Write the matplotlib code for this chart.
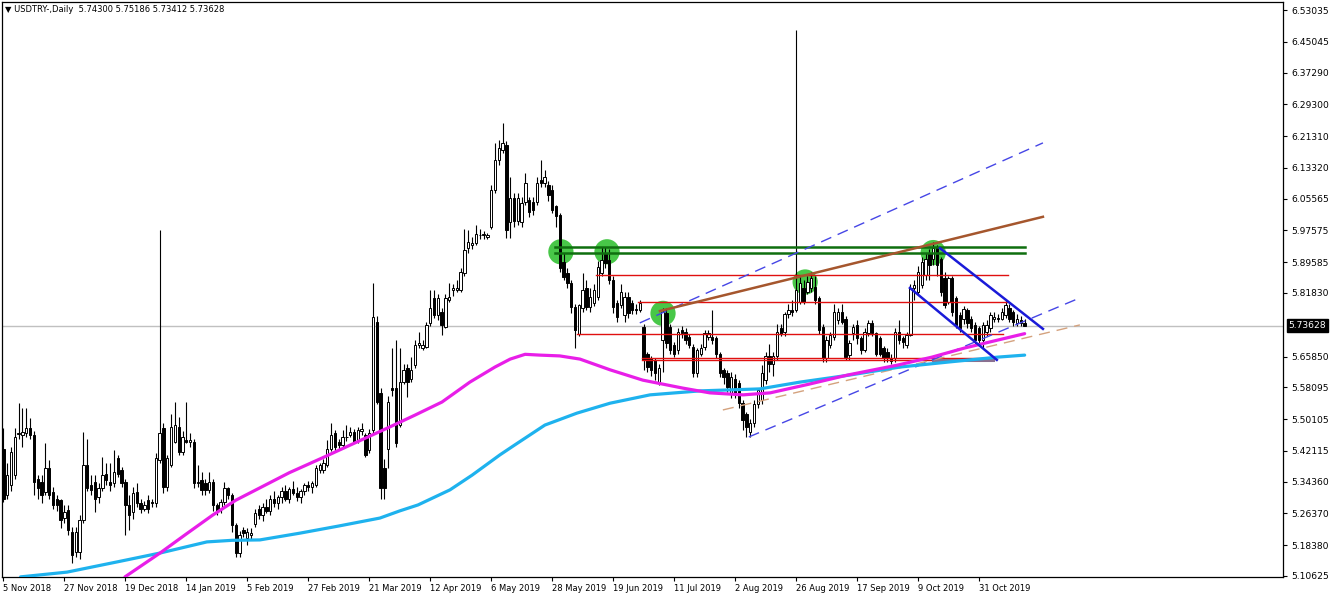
import matplotlib
matplotlib.use("Agg")
import matplotlib.pyplot as plt
import numpy as np

# ---------------- data ----------------
title_text = "\u25BC USDTRY-,Daily  5.74300 5.75186 5.73412 5.73628"
last_close = 5.73628

opens = [
 5.427,5.310,5.335,5.360,5.463,5.460,5.465,5.479,5.461,5.351,
 5.343,5.318,5.377,5.318,5.301,5.297,5.251,5.272,5.218,5.167,
 5.167,5.247,5.385,5.335,5.343,5.306,5.327,5.364,5.343,5.339,
 5.402,5.373,5.343,5.285,5.268,5.318,5.289,5.276,5.297,5.293,
 5.289,5.398,5.478,5.331,5.385,5.444,5.482,5.419,5.448,5.444,
 5.444,5.339,5.348,5.339,5.322,5.343,5.285,5.276,5.293,5.327,
 5.310,5.234,5.163,5.222,5.201,5.209,5.238,5.276,5.260,5.280,
 5.270,5.300,5.290,5.305,5.320,5.300,5.325,5.315,5.305,5.320,
 5.335,5.330,5.335,5.373,5.373,5.385,5.427,5.465,5.444,5.436,
 5.457,5.461,5.469,5.448,5.470,5.461,5.423,5.473,5.746,5.566,
 5.377,5.427,5.578,5.578,5.486,5.595,5.629,5.603,5.637,5.687,
 5.679,5.683,5.742,5.805,5.763,5.771,5.734,5.801,5.826,5.827,
 5.826,5.868,5.931,5.940,5.943,5.963,5.965,5.960,5.985,6.078,
 6.153,6.178,6.190,5.998,6.057,6.000,5.998,6.048,6.052,6.048,
 6.048,6.103,6.094,6.090,6.078,6.036,6.015,5.897,5.868,5.843,
 5.784,5.716,5.780,5.830,5.784,5.792,5.809,5.868,5.918,5.901,
 5.851,5.792,5.788,5.763,5.809,5.792,5.778,5.775,5.733,5.666,
 5.654,5.650,5.595,5.700,5.767,5.733,5.687,5.675,5.725,5.721,
 5.708,5.683,5.616,5.666,5.683,5.708,5.708,5.704,5.666,5.624,
 5.616,5.566,5.603,5.591,5.541,5.515,5.469,5.490,5.540,5.549,
 5.600,5.660,5.640,5.660,5.730,5.720,5.765,5.775,5.775,5.796,
 5.830,5.822,5.830,5.834,5.805,5.733,5.654,5.687,5.708,5.750,
 5.771,5.754,5.662,5.717,5.738,5.704,5.675,5.717,5.742,5.717,
 5.704,5.679,5.671,5.654,5.654,5.721,5.704,5.687,5.713,5.830,
 5.822,5.838,5.864,5.918,5.905,5.931,5.905,5.855,5.796,5.855,
 5.805,5.763,5.754,5.775,5.754,5.738,5.729,5.700,5.721,5.729,
 5.754,5.756,5.754,5.763,5.780,5.771,5.742,5.750,5.743]
highs = [
 5.478,5.390,5.430,5.478,5.541,5.528,5.528,5.503,5.470,5.360,
 5.360,5.440,5.398,5.330,5.310,5.300,5.285,5.285,5.230,5.230,
 5.260,5.469,5.452,5.360,5.360,5.340,5.406,5.390,5.390,5.423,
 5.410,5.380,5.350,5.310,5.330,5.339,5.300,5.295,5.310,5.300,
 5.415,5.977,5.490,5.410,5.515,5.545,5.507,5.470,5.545,5.465,
 5.450,5.385,5.369,5.350,5.369,5.350,5.290,5.300,5.343,5.330,
 5.315,5.240,5.220,5.230,5.226,5.226,5.276,5.285,5.290,5.300,
 5.310,5.320,5.310,5.330,5.335,5.330,5.345,5.330,5.325,5.340,
 5.345,5.345,5.385,5.390,5.400,5.448,5.490,5.473,5.450,5.473,
 5.485,5.480,5.475,5.480,5.490,5.465,5.475,5.843,5.760,5.580,
 5.400,5.560,5.679,5.700,5.679,5.640,5.640,5.658,5.700,5.721,
 5.700,5.745,5.826,5.826,5.815,5.780,5.815,5.843,5.840,5.850,
 5.880,5.980,5.977,5.960,5.989,5.980,5.975,5.970,6.090,6.195,
 6.203,6.245,6.200,6.111,6.070,6.070,6.060,6.119,6.060,6.060,
 6.110,6.153,6.128,6.100,6.090,6.040,6.020,5.920,5.880,5.850,
 5.790,5.790,5.868,5.850,5.830,5.840,5.900,5.935,5.935,5.930,
 5.860,5.800,5.840,5.820,5.820,5.800,5.790,5.800,5.740,5.670,
 5.660,5.655,5.640,5.780,5.780,5.740,5.695,5.730,5.735,5.730,
 5.715,5.690,5.680,5.690,5.725,5.725,5.775,5.710,5.670,5.630,
 5.625,5.620,5.615,5.600,5.550,5.520,5.500,5.550,5.580,5.637,
 5.670,5.690,5.670,5.740,5.740,5.770,5.790,5.800,6.480,5.860,
 5.850,5.860,5.870,5.860,5.810,5.740,5.710,5.720,5.790,5.780,
 5.790,5.760,5.700,5.740,5.750,5.710,5.730,5.750,5.750,5.720,
 5.710,5.685,5.680,5.665,5.730,5.750,5.710,5.720,5.840,5.850,
 5.885,5.910,5.920,5.930,5.947,5.940,5.910,5.870,5.860,5.860,
 5.810,5.770,5.785,5.780,5.760,5.745,5.735,5.745,5.750,5.770,
 5.770,5.765,5.780,5.800,5.790,5.775,5.765,5.760,5.75186]
lows = [
 5.293,5.300,5.320,5.350,5.450,5.432,5.455,5.450,5.310,5.300,
 5.290,5.310,5.300,5.276,5.270,5.226,5.240,5.210,5.138,5.155,
 5.150,5.240,5.320,5.310,5.268,5.290,5.320,5.335,5.320,5.330,
 5.355,5.330,5.209,5.222,5.250,5.280,5.265,5.270,5.265,5.280,
 5.280,5.390,5.314,5.320,5.380,5.440,5.410,5.410,5.440,5.430,
 5.327,5.330,5.310,5.310,5.315,5.270,5.260,5.265,5.285,5.300,
 5.218,5.155,5.155,5.205,5.184,5.200,5.230,5.250,5.245,5.265,
 5.260,5.280,5.275,5.290,5.295,5.290,5.310,5.295,5.290,5.310,
 5.320,5.315,5.330,5.365,5.365,5.380,5.420,5.420,5.425,5.430,
 5.445,5.455,5.440,5.440,5.460,5.406,5.415,5.465,5.540,5.301,
 5.301,5.377,5.560,5.430,5.480,5.590,5.557,5.595,5.630,5.680,
 5.675,5.680,5.735,5.755,5.750,5.713,5.730,5.795,5.810,5.820,
 5.820,5.860,5.920,5.930,5.940,5.955,5.955,5.955,5.980,6.070,
 6.140,6.170,5.956,5.956,5.985,5.990,5.985,6.040,6.010,6.015,
 6.040,6.085,6.085,6.050,6.020,5.985,5.870,5.850,5.830,5.767,
 5.680,5.710,5.770,5.775,5.770,5.785,5.800,5.860,5.880,5.840,
 5.767,5.745,5.780,5.745,5.755,5.765,5.765,5.770,5.624,5.620,
 5.610,5.600,5.587,5.620,5.680,5.665,5.658,5.665,5.705,5.690,
 5.680,5.607,5.607,5.660,5.675,5.700,5.690,5.655,5.607,5.590,
 5.570,5.555,5.555,5.530,5.473,5.457,5.455,5.480,5.530,5.540,
 5.590,5.620,5.610,5.650,5.710,5.710,5.755,5.760,5.770,5.790,
 5.790,5.815,5.820,5.790,5.715,5.645,5.645,5.680,5.700,5.740,
 5.740,5.650,5.650,5.700,5.690,5.665,5.670,5.710,5.710,5.660,
 5.660,5.645,5.645,5.640,5.645,5.690,5.680,5.680,5.710,5.800,
 5.815,5.830,5.850,5.850,5.890,5.860,5.810,5.780,5.790,5.760,
 5.730,5.720,5.740,5.730,5.720,5.690,5.685,5.680,5.710,5.720,
 5.745,5.745,5.750,5.755,5.745,5.735,5.735,5.735,5.73412]
closes = [
 5.301,5.360,5.419,5.457,5.466,5.468,5.478,5.461,5.343,5.327,
 5.310,5.377,5.310,5.285,5.285,5.247,5.268,5.222,5.159,5.218,
 5.247,5.385,5.327,5.322,5.301,5.327,5.360,5.348,5.335,5.369,
 5.364,5.339,5.285,5.260,5.314,5.289,5.276,5.285,5.276,5.289,
 5.402,5.465,5.331,5.402,5.482,5.486,5.419,5.457,5.444,5.448,
 5.339,5.343,5.322,5.322,5.343,5.285,5.268,5.293,5.327,5.310,
 5.234,5.163,5.209,5.214,5.218,5.214,5.264,5.260,5.280,5.270,
 5.300,5.290,5.305,5.320,5.300,5.325,5.315,5.305,5.320,5.335,
 5.330,5.340,5.377,5.385,5.390,5.427,5.461,5.431,5.436,5.457,
 5.455,5.469,5.444,5.473,5.475,5.411,5.465,5.759,5.545,5.327,
 5.327,5.545,5.574,5.440,5.595,5.625,5.595,5.625,5.687,5.692,
 5.687,5.738,5.780,5.763,5.805,5.738,5.805,5.809,5.830,5.831,
 5.872,5.927,5.947,5.945,5.968,5.965,5.967,5.963,6.078,6.153,
 6.182,6.195,5.977,6.057,6.000,6.057,6.044,6.094,6.023,6.027,
 6.094,6.094,6.111,6.065,6.027,6.011,5.880,5.859,5.843,5.784,
 5.725,5.787,5.826,5.784,5.809,5.826,5.884,5.901,5.893,5.851,
 5.784,5.759,5.822,5.809,5.767,5.775,5.775,5.792,5.650,5.633,
 5.624,5.616,5.629,5.771,5.692,5.675,5.666,5.721,5.717,5.700,
 5.687,5.616,5.675,5.679,5.717,5.717,5.700,5.666,5.616,5.607,
 5.582,5.607,5.566,5.541,5.499,5.482,5.490,5.540,5.574,5.616,
 5.660,5.640,5.660,5.720,5.715,5.765,5.775,5.770,5.826,5.843,
 5.796,5.847,5.855,5.801,5.725,5.654,5.700,5.713,5.771,5.771,
 5.746,5.658,5.692,5.733,5.704,5.675,5.721,5.742,5.717,5.666,
 5.666,5.654,5.654,5.648,5.721,5.700,5.696,5.713,5.830,5.838,
 5.872,5.897,5.905,5.889,5.931,5.889,5.822,5.788,5.855,5.771,
 5.738,5.729,5.779,5.742,5.729,5.700,5.700,5.738,5.738,5.763,
 5.758,5.752,5.771,5.788,5.754,5.746,5.754,5.742,5.73628]

date_labels = ["5 Nov 2018", "27 Nov 2018", "19 Dec 2018", "14 Jan 2019", "5 Feb 2019",
               "27 Feb 2019", "21 Mar 2019", "12 Apr 2019", "6 May 2019", "28 May 2019",
               "19 Jun 2019", "11 Jul 2019", "2 Aug 2019", "26 Aug 2019", "17 Sep 2019",
               "9 Oct 2019", "31 Oct 2019"]
date_label_bars = [0, 16, 32, 48, 64, 80, 96, 112, 128, 144, 160, 176, 192, 208, 224, 240, 256]

price_ticks = [6.53035, 6.45045, 6.37290, 6.29300, 6.21310, 6.13320, 6.05565, 5.97575,
               5.89585, 5.81830, 5.65850, 5.58095, 5.50105, 5.42115, 5.34360, 5.26370,
               5.18380, 5.10625]

# moving averages (bar index, price)
ma_pink_bars = [31.9, 34.5, 41.1, 48.0, 55.0, 61.0, 67.3, 75.0, 83.6, 92.0, 100.9, 108.0,
                115.1, 122.4, 129.0, 133.0, 136.9, 140.8, 146.0, 151.3, 159.2, 167.8,
                178.3, 185.4, 194.1, 201.2, 211.0, 221.6, 234.7, 243.7, 252.3, 261.0,
                268.0]
ma_pink_vals = [5.104, 5.121, 5.164, 5.212, 5.260, 5.297, 5.328, 5.366, 5.403, 5.440,
                5.479, 5.511, 5.544, 5.594, 5.632, 5.652, 5.664, 5.662, 5.660, 5.652,
                5.625, 5.599, 5.579, 5.567, 5.562, 5.567, 5.588, 5.612, 5.637, 5.657,
                5.680, 5.700, 5.716]
ma_blue_bars = [4.5, 16.7, 30.0, 41.1, 53.4, 60.0, 67.3, 77.8, 88.0, 98.8, 104.0, 108.8,
                117.2, 123.0, 130.3, 134.2, 142.1, 150.5, 159.2, 169.7, 182.8, 198.5,
                209.0, 222.2, 235.3, 248.4, 261.0, 268.0]
ma_blue_vals = [5.104, 5.116, 5.142, 5.164, 5.192, 5.196, 5.197, 5.214, 5.232, 5.252,
                5.270, 5.285, 5.323, 5.360, 5.411, 5.436, 5.486, 5.516, 5.541, 5.562,
                5.572, 5.577, 5.594, 5.612, 5.632, 5.645, 5.657, 5.662]

# drawn objects
green_levels = [5.933, 5.918]
green_span = [144.7, 268.0]
red_levels = [5.864, 5.795, 5.716, 5.655, 5.649]
red_starts = [155.5, 166.5, 150.5, 167.6, 167.6]
red_ends = [263.6, 263.3, 262.3, 259.7, 259.7]
circle_bars = [146.3, 158.4, 173.1, 210.4, 244.0]
circle_prices = [5.922, 5.922, 5.767, 5.846, 5.920]
brown_line = [(172.3, 5.773), (272.8, 6.010)]
tan_dash_line = [(188.8, 5.524), (282.5, 5.738)]
channel_upper = [(167.0, 5.743), (272.8, 6.196)]
channel_lower = [(195.6, 5.456), (282.5, 5.806)]
wedge_upper = [(245.8, 5.931), (272.8, 5.728)]
wedge_lower = [(237.9, 5.831), (260.7, 5.650)]
gray_band = [(244.0, 5.650), (259.7, 5.650)]

# ---------------- drawing ----------------
W, H = 1332, 598
fig = plt.figure(figsize=(W / 100, H / 100), dpi=100)
fig.patch.set_facecolor("white")
ax = fig.add_axes([2 / W, 21 / H, 1281 / W, 575 / H])
ax.set_facecolor("white")

o = np.array(opens); h = np.array(highs); l = np.array(lows); c = np.array(closes)
n = len(c)
x = np.arange(n)

ax.set_xlim(-0.37, 335.8)
ax.set_ylim(5.1037, 6.5505)

# current price line
ax.axhline(last_close, color="#c0c0c0", lw=1.0, zorder=1)

# circles (behind candles)
ax.scatter(circle_bars, circle_prices, s=330, color="#3ec43e", alpha=0.95,
           edgecolors="none", zorder=2)

# candles
ax.vlines(x, l, h, color="black", lw=0.8, zorder=3)
up = c >= o
body_bot = np.minimum(o, c)
body_h = np.maximum(np.abs(c - o), 0.0015)
ax.bar(x[up], body_h[up], bottom=body_bot[up], width=0.62, color="white",
       edgecolor="black", linewidth=0.7, zorder=4)
ax.bar(x[~up], body_h[~up], bottom=body_bot[~up], width=0.62, color="black",
       edgecolor="black", linewidth=0.7, zorder=4)

# horizontal levels
for lev in green_levels:
    ax.plot(green_span, [lev, lev], color="#0f6e0f", lw=1.8, zorder=5)
for lev, s0, s1 in zip(red_levels, red_starts, red_ends):
    ax.plot([s0, s1], [lev, lev], color="#e01010", lw=1.0, zorder=5)
ax.plot([p[0] for p in gray_band], [p[1] for p in gray_band], color="#8a7090", lw=2.2, zorder=5)

# trend lines
def seg(pts, **kw):
    ax.plot([p[0] for p in pts], [p[1] for p in pts], **kw)

seg(tan_dash_line, color="#d4a27e", lw=1.0, dashes=(8, 5), zorder=5)
seg(channel_upper, color="#4646e6", lw=1.0, dashes=(8, 5), zorder=5)
seg(channel_lower, color="#4646e6", lw=1.0, dashes=(8, 5), zorder=5)
seg(brown_line, color="#a5562d", lw=1.8, zorder=6)

# moving averages
ax.plot(ma_blue_bars, ma_blue_vals, color="#1eb2ee", lw=2.3, zorder=6,
        solid_capstyle="round", solid_joinstyle="round")
ax.plot(ma_pink_bars, ma_pink_vals, color="#e81ee8", lw=2.3, zorder=7,
        solid_capstyle="round", solid_joinstyle="round")

seg(wedge_upper, color="#1a1ad8", lw=1.8, zorder=8)
seg(wedge_lower, color="#1a1ad8", lw=1.8, zorder=8)

# axes styling
for sp in ax.spines.values():
    sp.set_color("black")
    sp.set_linewidth(0.9)

ax.yaxis.tick_right()
ax.set_yticks(price_ticks)
ax.set_yticklabels([f"{v:.5f}" for v in price_ticks])
ax.tick_params(axis="y", direction="out", length=3, width=0.8, pad=3,
               labelsize=6.6, colors="black")
ax.set_xticks(date_label_bars)
ax.set_xticklabels(date_labels)
ax.tick_params(axis="x", direction="out", length=3, width=0.8, pad=2,
               labelsize=6.0, colors="black")
for lbl in ax.get_xticklabels():
    lbl.set_ha("left")

# current price box
ax.annotate(f"{last_close:.5f}", xy=(1.0, last_close),
            xycoords=("axes fraction", "data"), xytext=(4, 0),
            textcoords="offset points", va="center", ha="left",
            fontsize=6.6, color="white",
            bbox=dict(boxstyle="square,pad=0.2", fc="black", ec="black"))

fig.text(5 / W, 1 - 10 / H, title_text, fontsize=6.0, va="center", ha="left",
         color="black")

fig.savefig("out.png", dpi=100, facecolor="white")
